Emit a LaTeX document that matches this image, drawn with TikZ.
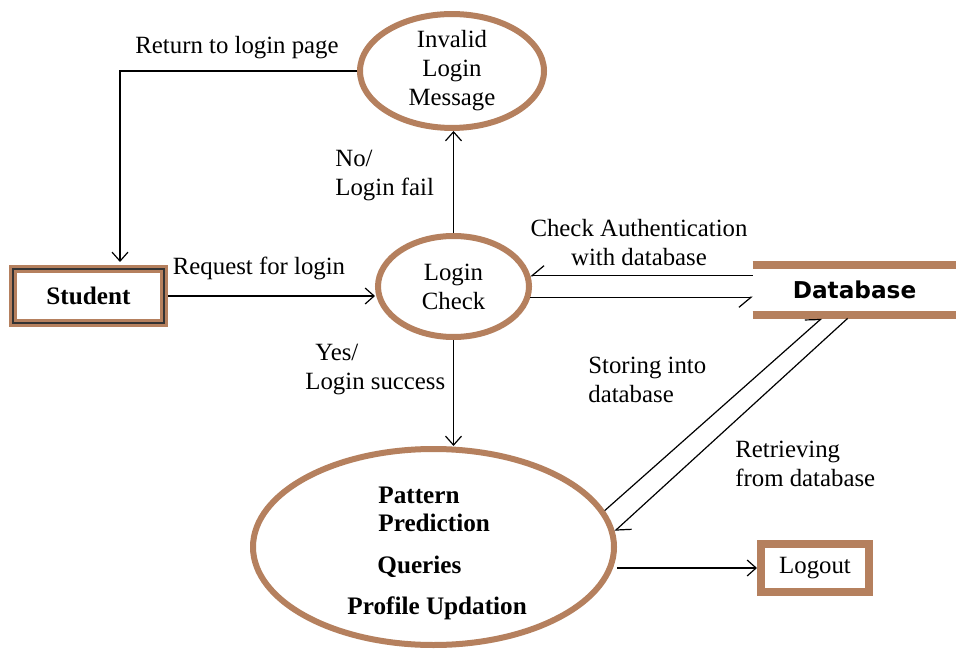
\documentclass[tikz,border=0pt]{standalone}
\usepackage{fontspec}
\setmainfont{Liberation Serif}
\newfontfamily\dbfont{DejaVu Sans}
\usetikzlibrary{shapes.geometric,arrows.meta,calc}
\definecolor{frame}{RGB}{181,128,94}
\begin{document}
\begin{tikzpicture}[x=0.5pt,y=-0.5pt,
  every node/.style={font=\fontsize{12.4}{14.5}\selectfont, inner sep=0pt},
  bubble/.style={ellipse, draw=frame, line width=3pt, align=center},
  boxnode/.style={rectangle, draw=frame, line width=4pt},
  flow/.style={line width=0.6pt, -{Straight Barb[length=4.5pt,width=8pt]}},
  halfflow/.style={line width=0.6pt, -{Straight Barb[length=6pt,width=10pt,harpoon]}},
  halfflowsw/.style={line width=0.6pt, -{Straight Barb[length=6pt,width=10pt,harpoon,swap]}},
  lbl/.style={align=left},
  bold/.style={font=\fontsize{12.6}{14.5}\selectfont\bfseries}]
\useasboundingbox (0,0) rectangle (956,651);
\fill[white] (0,0) rectangle (956,651);

% processes
\node[bubble, minimum width=92pt, minimum height=56pt] (invalid) at (452,71) {Invalid\\Login\\Message};
\node[bubble, minimum width=75.5pt, minimum height=50.5pt] (check) at (453.5,286.5) {Login\\Check};
\node[bubble, minimum width=180.5pt, minimum height=98pt] (pattern) at (433.5,547) {};

% external entities
\node[boxnode, minimum width=75.5pt, minimum height=27pt, bold] (student) at (88.5,296) {Student};
\draw[line width=0.7pt, black!80] ($(student.north west)+(4,4)$) rectangle ($(student.south east)+(-4,-4)$);
\node[boxnode, minimum width=54pt, minimum height=24pt] (logout) at (815,568) {Logout};

% data store
\node[rectangle, minimum width=101.5pt, minimum height=25pt,
      font=\dbfont\fontsize{11.6}{14}\selectfont\bfseries] (db) at (854.5,290) {Database};
\draw[frame, line width=4pt] (db.north west) -- (db.north east);
\draw[frame, line width=4pt] (db.south west) -- (db.south east);

% contents of the main process
\node[bold, anchor=west] (t1) at (378,495) {Pattern};
\node[bold, anchor=west] (t2) at (378,523) {Prediction};
\node[bold, anchor=west] (t3) at (377,567) {Queries};
\node[bold, anchor=west] (t4) at (347,608) {Profile Updation};

% flows
\draw[flow] (invalid.west) -| ($(student.north)+(31.5,-3)$);
\node (l1) at (237,48) {Return to login page};

\draw[flow] (student.east) -- (student.east -| check.west);
\node (l2) at (259,268) {Request for login};

\draw[flow] (check.north) -- (check.north |- invalid.south);
\node[lbl, anchor=west] (l3) at (335,176) {No/\\Login fail};

\draw[flow] (check.south) -- (check.south |- pattern.north);
\node[lbl, anchor=west] (l4) at (305,370) {\hspace{5pt}Yes/\\Login success};

\draw[halfflowsw] (db.west |- check.8) -- (check.8);
\draw[halfflowsw] (check.-8) -- (db.west |- check.-8);
\node[align=center] (l5) at (639,243) {Check Authentication\\with database};

\coordinate (dbin) at ($(db.south west)+(69,3)$);
\coordinate (dbout) at ($(db.south west)+(95,3)$);
\draw[halfflow] (pattern.12) -- (dbin);
\draw[halfflow] (dbout) -- (pattern.5);
\node[lbl, anchor=west] (l6) at (588,380) {Storing into\\database};
\node[lbl, anchor=west] (l7) at (735,464) {Retrieving\\from database};

\draw[flow] (pattern.east |- logout.west) -- (logout.west);
\end{tikzpicture}
\end{document}
